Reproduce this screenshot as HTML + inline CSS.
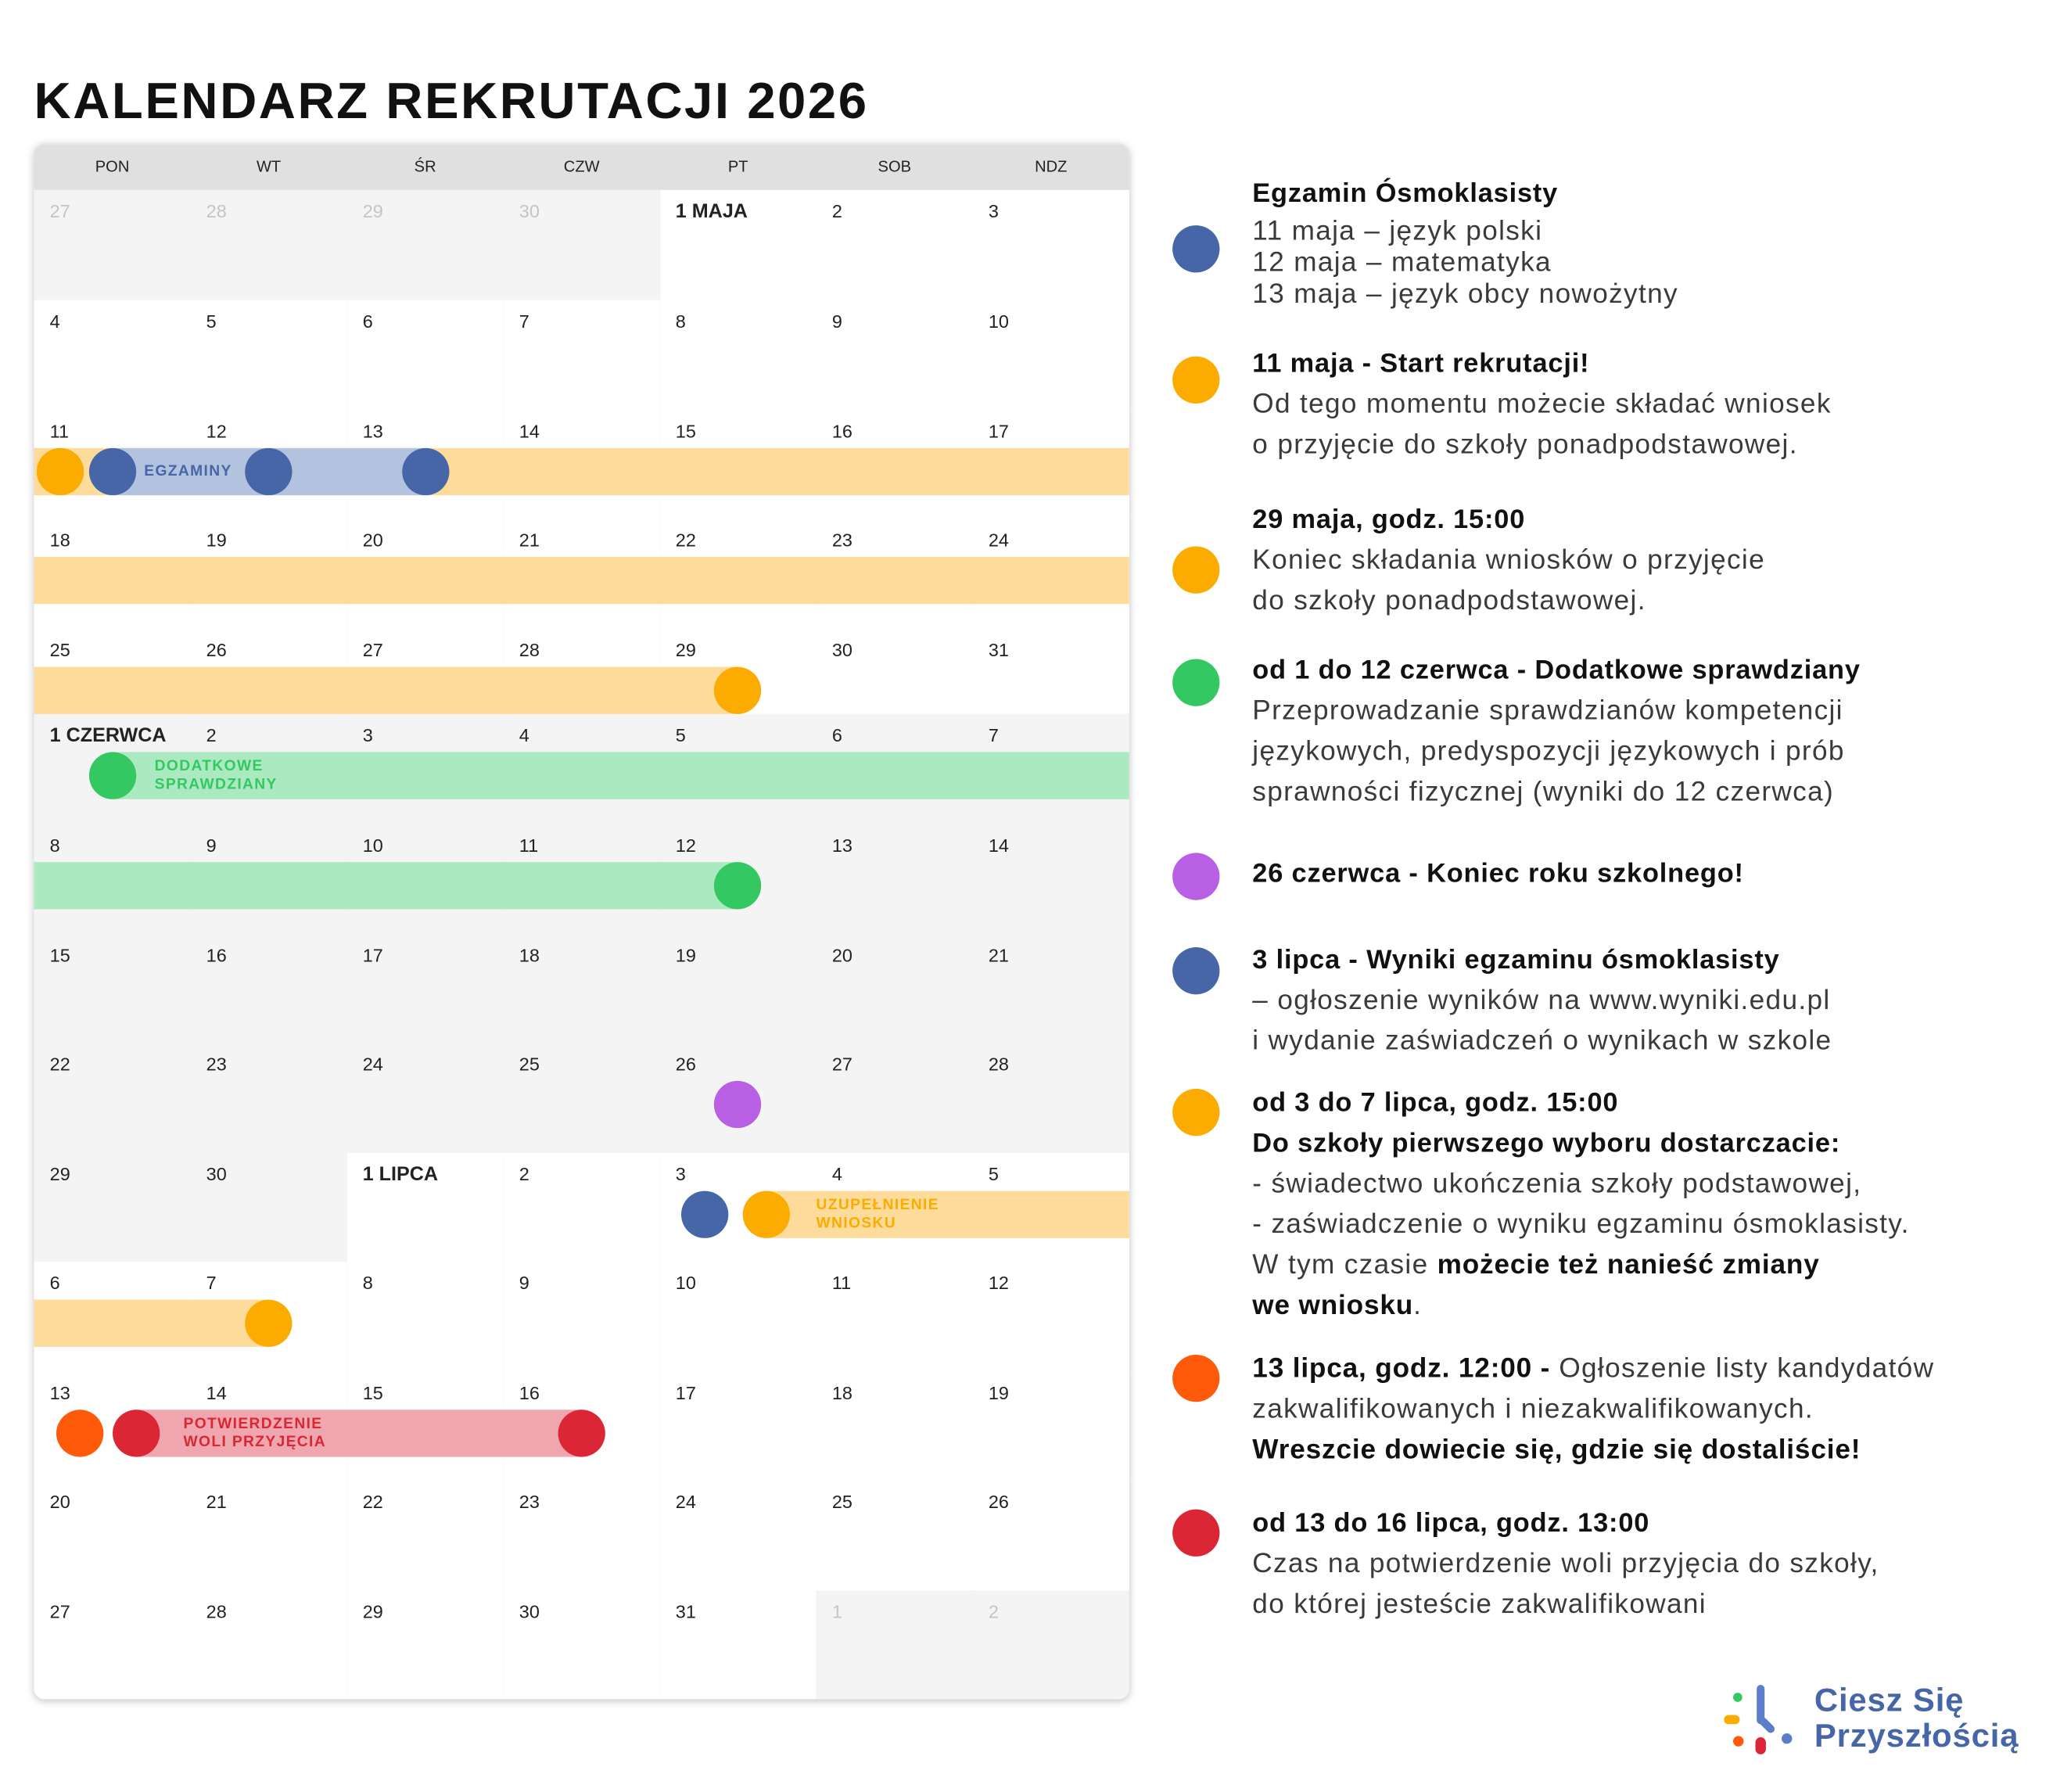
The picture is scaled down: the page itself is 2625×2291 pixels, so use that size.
<!DOCTYPE html>
<html><head><meta charset="utf-8">
<style>
html,body{margin:0;padding:0;background:#fff;}
body{width:2625px;height:2289px;overflow:hidden;position:relative;font-family:"Liberation Sans",sans-serif;}
#wrap{position:absolute;left:0;top:0;width:1568px;height:1368px;transform:scale(1.675);transform-origin:0 0;}
.abs{position:absolute;}
#title{left:26px;top:56px;font-size:39px;font-weight:bold;color:#111;letter-spacing:1.5px;white-space:nowrap;}
#cal{left:26px;top:110px;width:836px;height:1187px;border-radius:8px;box-shadow:0 1px 6px rgba(0,0,0,0.25);overflow:hidden;background:#fff;}
.hd{position:absolute;top:0;height:35px;line-height:35px;text-align:center;font-size:12px;color:#222;}
.cell{position:absolute;box-sizing:border-box;border-right:1px solid #e2e2e2;border-bottom:1px solid #e2e2e2;}
.num{position:absolute;left:12px;top:8px;font-size:14px;color:#222;white-space:nowrap;}
.dot{position:absolute;width:36px;height:36px;border-radius:50%;}
.bar{position:absolute;height:36px;}
.lbl{position:absolute;font-size:11.5px;font-weight:bold;line-height:14px;letter-spacing:0.8px;white-space:nowrap;}
.ld{position:absolute;left:895px;width:36px;height:36px;border-radius:50%;}
.lt{position:absolute;left:956px;font-size:21px;line-height:24px;color:#3a3a3a;white-space:nowrap;letter-spacing:0.8px;}
.lt b{color:#111;letter-spacing:0.5px;}
.lh{font-weight:bold;color:#111;font-size:20.5px;letter-spacing:0.5px;}
</style></head>
<body>
<div id="wrap">
<div id="title" class="abs">KALENDARZ REKRUTACJI 2026</div>
<div id="cal" class="abs"></div>

<div class="ld" style="top:172px;background:#4766a8"></div>
<div class="lt lh" style="top:136px">Egzamin Ósmoklasisty</div>
<div class="lt" style="top:165px">11 maja – język polski</div>
<div class="lt" style="top:189px">12 maja – matematyka</div>
<div class="lt" style="top:213px">13 maja – język obcy nowożytny</div>

<div class="ld" style="top:272px;background:#fcab00"></div>
<div class="lt lh" style="top:266px">11 maja - Start rekrutacji!</div>
<div class="lt" style="top:297px">Od tego momentu możecie składać wniosek</div>
<div class="lt" style="top:328px">o przyjęcie do szkoły ponadpodstawowej.</div>

<div class="ld" style="top:417px;background:#fcab00"></div>
<div class="lt lh" style="top:385px">29 maja, godz. 15:00</div>
<div class="lt" style="top:416px">Koniec składania wniosków o przyjęcie</div>
<div class="lt" style="top:447px">do szkoły ponadpodstawowej.</div>

<div class="ld" style="top:503px;background:#34c862"></div>
<div class="lt lh" style="top:500px">od 1 do 12 czerwca - Dodatkowe sprawdziany</div>
<div class="lt" style="top:531px">Przeprowadzanie sprawdzianów kompetencji</div>
<div class="lt" style="top:562px">językowych, predyspozycji językowych i prób</div>
<div class="lt" style="top:593px">sprawności fizycznej (wyniki do 12 czerwca)</div>

<div class="ld" style="top:651px;background:#b85fe3"></div>
<div class="lt lh" style="top:655px">26 czerwca - Koniec roku szkolnego!</div>

<div class="ld" style="top:723px;background:#4766a8"></div>
<div class="lt lh" style="top:721px">3 lipca - Wyniki egzaminu ósmoklasisty</div>
<div class="lt" style="top:752px">– ogłoszenie wyników na www.wyniki.edu.pl</div>
<div class="lt" style="top:783px">i wydanie zaświadczeń o wynikach w szkole</div>

<div class="ld" style="top:831px;background:#fcab00"></div>
<div class="lt lh" style="top:830px">od 3 do 7 lipca, godz. 15:00</div>
<div class="lt lh" style="top:861px">Do szkoły pierwszego wyboru dostarczacie:</div>
<div class="lt" style="top:892px">- świadectwo ukończenia szkoły podstawowej,</div>
<div class="lt" style="top:923px">- zaświadczenie o wyniku egzaminu ósmoklasisty.</div>
<div class="lt" style="top:954px">W tym czasie <b>możecie też nanieść zmiany</b></div>
<div class="lt" style="top:985px"><b>we wniosku</b>.</div>

<div class="ld" style="top:1034px;background:#ff5a0a"></div>
<div class="lt" style="top:1033px"><b>13 lipca, godz. 12:00 -</b> Ogłoszenie listy kandydatów</div>
<div class="lt" style="top:1064px">zakwalifikowanych i niezakwalifikowanych.</div>
<div class="lt" style="top:1095px"><b>Wreszcie dowiecie się, gdzie się dostaliście!</b></div>

<div class="ld" style="top:1152px;background:#db2735"></div>
<div class="lt lh" style="top:1151px">od 13 do 16 lipca, godz. 13:00</div>
<div class="lt" style="top:1182px">Czas na potwierdzenie woli przyjęcia do szkoły,</div>
<div class="lt" style="top:1213px">do której jesteście zakwalifikowani</div>

<div class="abs" style="left:1310px;top:1280px;width:70px;height:70px">
 <div class="abs" style="left:13px;top:12px;width:7px;height:7px;border-radius:50%;background:#34c862"></div>
 <div class="abs" style="left:6px;top:29px;width:12px;height:7px;border-radius:4px;background:#fcab00"></div>
 <div class="abs" style="left:13px;top:45px;width:8px;height:8px;border-radius:50%;background:#ff5a0a"></div>
 <div class="abs" style="left:30px;top:46px;width:8px;height:13px;border-radius:4px;background:#db2735"></div>
 <div class="abs" style="left:50px;top:43px;width:8px;height:8px;border-radius:50%;background:#5a7fc8"></div>
 <div class="abs" style="left:31px;top:6px;width:6px;height:30px;border-radius:3px;background:#5a7fc8"></div>
 <div class="abs" style="left:33px;top:31px;width:6px;height:14px;border-radius:3px;background:#5a7fc8;transform:rotate(-45deg);transform-origin:3px 3px"></div>
</div>
<div class="abs" style="left:1385px;top:1285px;font-size:25px;line-height:27px;font-weight:bold;color:#4766a8;white-space:nowrap;letter-spacing:0.5px">Ciesz Się<br>Przyszłością</div>
</div>

<script>
const dayNames = ['PON','WT','ŚR','CZW','PT','SOB','NDZ'];
const weeks = [
 ['27','28','29','30','1 MAJA','2','3'],
 ['4','5','6','7','8','9','10'],
 ['11','12','13','14','15','16','17'],
 ['18','19','20','21','22','23','24'],
 ['25','26','27','28','29','30','31'],
 ['1 CZERWCA','2','3','4','5','6','7'],
 ['8','9','10','11','12','13','14'],
 ['15','16','17','18','19','20','21'],
 ['22','23','24','25','26','27','28'],
 ['29','30','1 LIPCA','2','3','4','5'],
 ['6','7','8','9','10','11','12'],
 ['13','14','15','16','17','18','19'],
 ['20','21','22','23','24','25','26'],
 ['27','28','29','30','31','1','2']
];
const months = [
 [0,0,0,0,1,1,1],[1,1,1,1,1,1,1],[1,1,1,1,1,1,1],[1,1,1,1,1,1,1],[1,1,1,1,1,1,1],
 [2,2,2,2,2,2,2],[2,2,2,2,2,2,2],[2,2,2,2,2,2,2],[2,2,2,2,2,2,2],
 [2,2,3,3,3,3,3],[3,3,3,3,3,3,3],[3,3,3,3,3,3,3],[3,3,3,3,3,3,3],[3,3,3,3,3,0,0]
];
const boldDays = ['1 MAJA','1 CZERWCA','1 LIPCA'];
const rowH = [84,84,83,84,65,84,84,83,84,83,84,83,84,83];
const HEAD = 35, COLW = 836/7;
const cal = document.getElementById('cal');
const rowTop = [];
let acc = HEAD;
rowH.forEach(h => { rowTop.push(acc); acc += h; });
const colX = c => c*COLW;
const colC = c => c*COLW + COLW/2;

const hdbg = document.createElement('div');
hdbg.className='abs';
hdbg.style.cssText='left:0;top:0;width:836px;height:35px;background:#e0e0e0';


cal.appendChild(hdbg);
dayNames.forEach((d,i)=>{
  const e=document.createElement('div');
  e.className='hd';
  e.style.left=colX(i)+'px';e.style.width=COLW+'px';
  e.textContent=d;
  
  
  cal.appendChild(e);
});
weeks.forEach((w,r)=>{
  w.forEach((d,c)=>{
    const m=months[r][c];
    const e=document.createElement('div');
    e.className='cell';
    e.style.left=colX(c)+'px';e.style.top=rowTop[r]+'px';
    e.style.width=(COLW+1)+'px';e.style.height=(rowH[r]+1)+'px';
    e.style.background=(m===0||m===2)?'#f4f4f4':'#fff';
    
    
    const n=document.createElement('div');
    n.className='num';
    n.textContent=d;
    if(m===0) n.style.color='#c4c4c4';
    if(boldDays.includes(d)){n.style.fontWeight='bold';n.style.fontSize='15px';}
    
    
    e.appendChild(n);
    cal.appendChild(e);
  });
});
function bar(x1,x2,r,color,name){
  const e=document.createElement('div');
  e.className='bar';
  e.style.left=x1+'px';e.style.width=(x2-x1)+'px';
  e.style.top=(rowTop[r]+29)+'px';
  e.style.background=color;
  
  
  cal.appendChild(e);
}
function dot(x,r,color,name){
  const e=document.createElement('div');
  e.className='dot';
  e.style.left=(x-18)+'px';e.style.top=(rowTop[r]+29)+'px';
  e.style.background=color;
  
  
  cal.appendChild(e);
}
function lbl(x,r,text,color,name){
  const e=document.createElement('div');
  e.className='lbl';
  e.style.left=x+'px';
  e.style.color=color;
  e.innerHTML=text;
  const lines=text.split('<br>').length;
  e.style.top=(rowTop[r]+29+18-lines*7)+'px';
  
  
  cal.appendChild(e);
}
const OR='#fddb9a', ORD='#fcab00', BL='#b3c2df', BLD='#4766a8', GR='#abe9c0', GRD='#34c862', PK='#f0a6ae', RD='#db2735';
bar(0,836,2,OR,'recruitment-bar');
bar(0,836,3,OR,'recruitment-bar');
bar(0,colC(4),4,OR,'recruitment-bar');
bar(colC(0),colC(2),2,BL,'exam-bar');
dot(20,2,ORD,'recruitment-start-dot');
dot(colC(0),2,BLD,'exam-dot-polish');
dot(colC(1),2,BLD,'exam-dot-math');
dot(colC(2),2,BLD,'exam-dot-language');
lbl(84,2,'EGZAMINY',BLD,'exam-label');
dot(colC(4),4,ORD,'recruitment-end-dot');
bar(colC(0),836,5,GR,'tests-bar');
bar(0,colC(4),6,GR,'tests-bar');
dot(colC(0),5,GRD,'tests-start-dot');
dot(colC(4),6,GRD,'tests-end-dot');
lbl(92,5,'DODATKOWE<br>SPRAWDZIANY',GRD,'tests-label');
dot(colC(4),8,'#b85fe3','school-end-dot');
bar(colC(4)+22,836,9,OR,'documents-bar');
bar(0,colC(1),10,OR,'documents-bar');
dot(colC(4)-25,9,BLD,'results-dot');
dot(colC(4)+22,9,ORD,'documents-start-dot');
dot(colC(1),10,ORD,'documents-end-dot');
lbl(597,9,'UZUPEŁNIENIE<br>WNIOSKU',ORD,'documents-label');
bar(78,colC(3),11,PK,'confirm-bar');
dot(35,11,'#ff5a0a','lists-dot');
dot(78,11,RD,'confirm-start-dot');
dot(colC(3),11,RD,'confirm-end-dot');
lbl(114,11,'POTWIERDZENIE<br>WOLI PRZYJĘCIA',RD,'confirm-label');
</script>
</body></html>
